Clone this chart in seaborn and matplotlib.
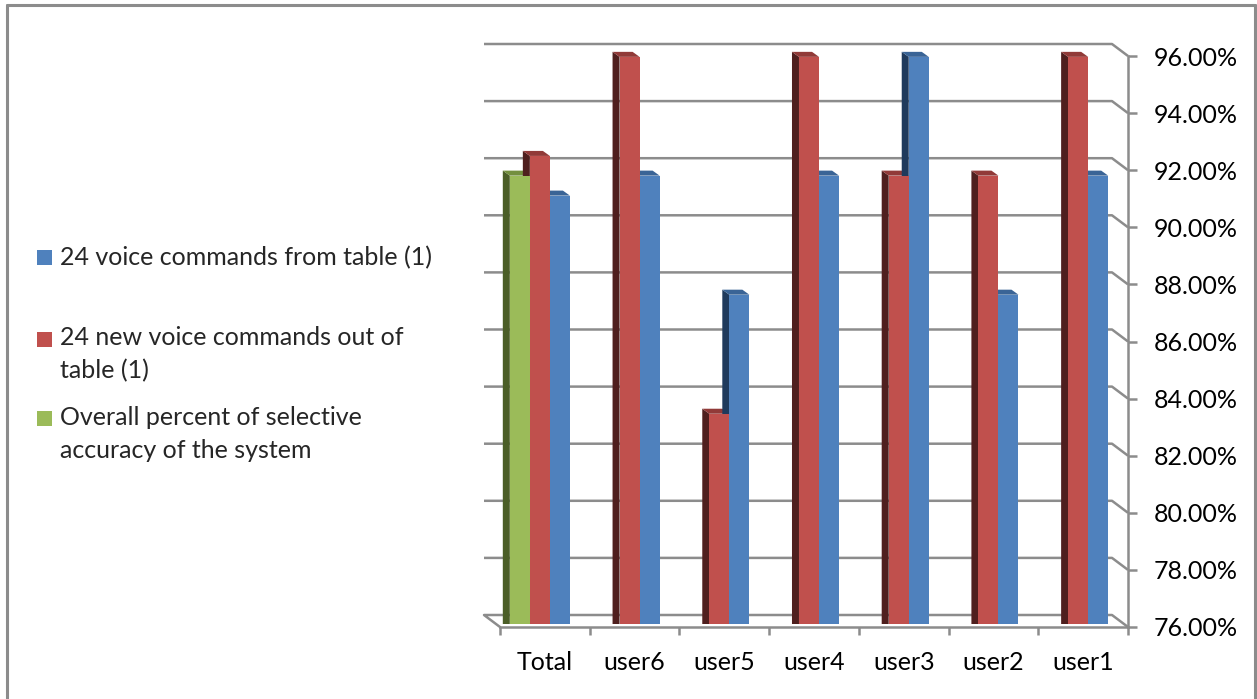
import numpy as np
import pandas as pd
import matplotlib
matplotlib.use("Agg")
import matplotlib.pyplot as plt
import matplotlib.transforms as mtransforms
from matplotlib.patches import Polygon, Rectangle
from matplotlib.lines import Line2D
from matplotlib.legend_handler import HandlerBase
import seaborn as sns

# ---------------- data ----------------
categories = ["Total", "user6", "user5", "user4", "user3", "user2", "user1"]
from_table = [90.97, 91.67, 87.50, 91.67, 95.83, 87.50, 91.67]
new_commands = [92.36, 95.83, 83.33, 95.83, 91.67, 91.67, 95.83]
overall = [91.67, np.nan, np.nan, np.nan, np.nan, np.nan, np.nan]
series_names = [
    "Overall percent of selective\naccuracy of the system",
    "24 new voice commands out of\ntable (1)",
    "24 voice commands from table (1)",
]
y_ticks = [76, 78, 80, 82, 84, 86, 88, 90, 92, 94, 96]

face_colors = ["#9BBB59", "#C0504D", "#4F81BD"]
side_colors = ["#4B5E27", "#4F1F1E", "#1F3A5C"]
top_colors = ["#738F3E", "#913A38", "#3A6496"]

rows = []
for series, vals in zip(series_names, [overall, new_commands, from_table]):
    for c, v in zip(categories, vals):
        if not np.isnan(v):
            rows.append({"category": c, "series": series, "value": v})
df = pd.DataFrame(rows)

# ---------------- figure ----------------
sns.set_theme(style="white")
plt.rcParams["font.family"] = ["Lato", "DejaVu Sans"]
FS = 18

W, H = 1257, 699
fig = plt.figure(figsize=(W / 100, H / 100), dpi=100)
ax_left, ax_right, ax_bottom, ax_top = 500, 1128, 627, 56
ax = fig.add_axes([ax_left / W, 1 - ax_bottom / H,
                   (ax_right - ax_left) / W, (ax_bottom - ax_top) / H])

sns.barplot(data=df, x="category", y="value", hue="series",
            order=categories, hue_order=series_names,
            palette=dict(zip(series_names, face_colors)),
            width=0.67, saturation=1, linewidth=0, legend=False,
            dodge=True, ax=ax, zorder=3)

ax.set_xlim(-0.5, len(categories) - 0.5)
ax.set_ylim(y_ticks[0], y_ticks[-1])

# pixel -> data conversions for the pseudo-3D depth
px_x = (len(categories)) / (ax_right - ax_left)
px_y = (y_ticks[-1] - y_ticks[0]) / (ax_bottom - ax_top)
bar_dx, bar_dy = 7 * px_x, 5 * px_y      # bar depth
wall_dx, wall_dy = 16 * px_x, 12 * px_y  # back wall offset

# bars sit at mid-depth: shift them back a little
shift = mtransforms.ScaledTranslation(-5 / 100, 4 / 100, fig.dpi_scale_trans)
bar_tr = ax.transData + shift
clip = mtransforms.TransformedBbox(
    mtransforms.Bbox([[0, 1 - (ax_bottom - 3) / H], [1, 1]]), fig.transFigure)

color_map = {}
for fc, sc, tc in zip(face_colors, side_colors, top_colors):
    color_map[matplotlib.colors.to_hex(fc).lower()] = (sc, tc)

ymin = y_ticks[0]
for p in list(ax.patches):
    h = p.get_height()
    if not np.isfinite(h) or h <= 0:
        continue
    x0, w = p.get_x(), p.get_width()
    top = p.get_y() + h
    fc = matplotlib.colors.to_hex(p.get_facecolor()).lower()
    sc, tc = color_map.get(fc, ("#333333", "#666666"))
    p.set_transform(bar_tr)
    p.set_clip_box(clip)
    side = Polygon([(x0, ymin - 1), (x0 - bar_dx, ymin - 1 + bar_dy),
                    (x0 - bar_dx, top + bar_dy), (x0, top)],
                   closed=True, facecolor=sc, edgecolor="none",
                   transform=bar_tr, zorder=2)
    topf = Polygon([(x0, top), (x0 - bar_dx, top + bar_dy),
                    (x0 + w - bar_dx, top + bar_dy), (x0 + w, top)],
                   closed=True, facecolor=tc, edgecolor="none",
                   transform=bar_tr, zorder=2)
    for poly in (side, topf):
        ax.add_patch(poly)
        poly.set_clip_box(clip)

# gridlines on the back wall, slanting to the right axis
grid_c = "#8C8C8C"
xl, xr = -0.5, len(categories) - 0.5
for v in y_ticks[1:]:
    ax.plot([xl - wall_dx, xr - wall_dx, xr], [v + wall_dy, v + wall_dy, v],
            color=grid_c, lw=1.8, clip_on=False, zorder=1,
            solid_capstyle="butt")
# floor outline
ax.plot([xl, xl - wall_dx, xr - wall_dx, xr],
        [y_ticks[0], y_ticks[0] + wall_dy, y_ticks[0] + wall_dy, y_ticks[0]],
        color=grid_c, lw=1.8, clip_on=False, zorder=1)

# spines / axes
for s in ["top", "left"]:
    ax.spines[s].set_visible(False)
for s in ["right", "bottom"]:
    ax.spines[s].set_color(grid_c)
    ax.spines[s].set_linewidth(1.8)

ax.yaxis.tick_right()
ax.set_yticks(y_ticks)
ax.set_yticklabels([f"{v:.2f}%" for v in y_ticks])
ax.tick_params(axis="y", which="major", direction="out", length=6.5, width=1.8,
               color=grid_c, pad=12, labelsize=FS, labelcolor="black",
               right=True, left=False)

ax.set_xticks(range(len(categories)))
ax.set_xticklabels(categories)
ax.set_xticks(np.arange(-0.5, len(categories), 1.0), minor=True)
ax.tick_params(axis="x", which="major", length=0, pad=17, labelsize=FS,
               labelcolor="black")
ax.tick_params(axis="x", which="minor", direction="out", length=6, width=1.8,
               color=grid_c, bottom=True)
ax.set_xlabel("")
ax.set_ylabel("")
ax.grid(False)
ax.set_facecolor("none")


# legend squares aligned with the first line of a (possibly multi-line) label
class FirstLineSquare(HandlerBase):
    def __init__(self, nlines=1, pitch=1.32, **kw):
        super().__init__(**kw)
        self.nlines = nlines
        self.pitch = pitch

    def create_artists(self, legend, orig_handle, xdescent, ydescent,
                       width, height, fontsize, trans):
        s = 0.6 * fontsize
        up = 0.5 * (self.nlines - 1) * self.pitch * fontsize
        r = Rectangle((-xdescent, -ydescent + up), s, s,
                      facecolor=orig_handle.get_facecolor(),
                      edgecolor="none", transform=trans)
        return [r]


handles = [Rectangle((0, 0), 1, 1, facecolor=c, edgecolor="none")
           for c in face_colors]
hmap = {h: FirstLineSquare(nlines=len(lbl.split("\n")))
        for h, lbl in zip(handles, series_names)}
leg_kw = dict(frameon=False, fontsize=FS, handlelength=0.6, handleheight=0.6,
              handletextpad=0.3, borderpad=0, borderaxespad=0,
              loc="center left", handler_map=hmap)
leg1 = fig.legend([handles[2]], [series_names[2]],
                  bbox_to_anchor=(37 / W, 1 - 258 / H), **leg_kw)
leg2 = fig.legend([handles[1], handles[0]], [series_names[1], series_names[0]],
                  bbox_to_anchor=(37 / W, 1 - 394 / H), labelspacing=0.95,
                  **leg_kw)
for lg in (leg1, leg2):
    for t in lg.get_texts():
        t.set_linespacing(1.5)

# chart-area border
for xs, ys in [((7 / W, 7 / W), (0, 1 - 5 / H)),
               ((7 / W, 1255 / W), (1 - 5 / H, 1 - 5 / H)),
               ((1255 / W, 1255 / W), (0, 1 - 5 / H))]:
    fig.add_artist(Line2D(xs, ys, color="#8C8C8C", lw=2.2,
                          transform=fig.transFigure))

fig.savefig("out.png", dpi=100, facecolor="white")
